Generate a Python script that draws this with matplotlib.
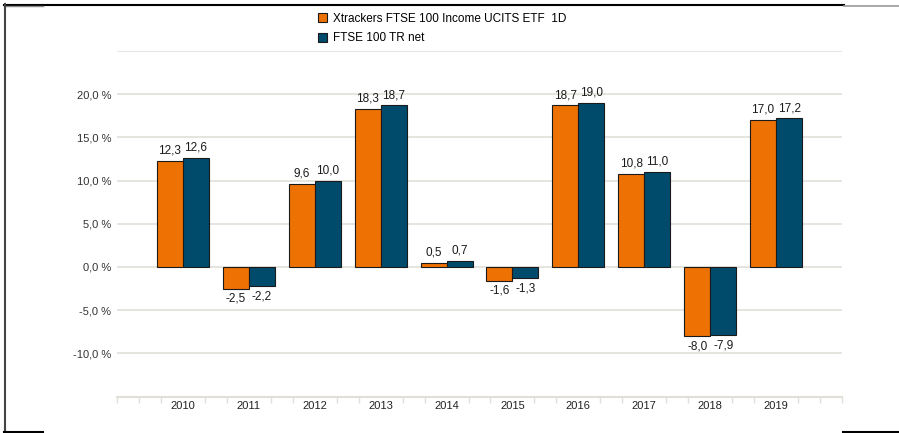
import matplotlib.pyplot as plt
import numpy as np
from matplotlib.lines import Line2D
from matplotlib.patches import Patch

plt.rcParams['font.family'] = ['Liberation Sans', 'DejaVu Sans']

years = ['2010', '2011', '2012', '2013', '2014', '2015', '2016', '2017', '2018', '2019']
etf = [12.3, -2.5, 9.6, 18.3, 0.5, -1.6, 18.7, 10.8, -8.0, 17.0]
index = [12.6, -2.2, 10.0, 18.7, 0.7, -1.3, 19.0, 11.0, -7.9, 17.2]
names = ['Xtrackers FTSE 100 Income UCITS ETF  1D', 'FTSE 100 TR net']

orange = '#ee7203'
blue = '#004a6c'
grid_c = '#e2dfd8'

W, H = 899, 433
fig = plt.figure(figsize=(W / 100, H / 100), dpi=100)
ax = fig.add_axes([117 / W, (H - 396.5) / H, (842 - 117) / W, (396.5 - 51) / H])

x = np.arange(len(years))
bw = 0.395
b1 = ax.bar(x - bw / 2, etf, bw, color=orange, edgecolor='#1a1a1a', linewidth=0.8, zorder=3)
b2 = ax.bar(x + bw / 2, index, bw, color=blue, edgecolor='#1a1a1a', linewidth=0.8, zorder=3)

for bars, vals in ((b1, etf), (b2, index)):
    for r, v in zip(bars, vals):
        cx = r.get_x() + r.get_width() / 2
        lab = f'{v:.1f}'.replace('.', ',')
        if v >= 0:
            ax.annotate(lab, (cx, v), xytext=(0, 3), textcoords='offset points',
                        ha='center', va='bottom', fontsize=8.5, color='#1a1a1a')
        else:
            ax.annotate(lab, (cx, v), xytext=(0, -3), textcoords='offset points',
                        ha='center', va='top', fontsize=8.5, color='#1a1a1a')

ax.set_xlim(-1, 10)
ax.set_ylim(-15, 25)
yt = [-10, -5, 0, 5, 10, 15, 20]
ax.set_yticks(yt)
ax.set_yticklabels([f'{v:.1f} %'.replace('.', ',') for v in yt], fontsize=8, color='#333333')
for v in [-10, -5, 0, 5, 10, 15, 20, 25]:
    ax.axhline(v, color=grid_c, linewidth=1.2, zorder=1)
ax.tick_params(axis='y', length=0, pad=4)

ax.set_xticks(x)
ax.set_xticklabels(years, fontsize=8, color='#222222')
minor = [k / 3 for k in range(-3, 31) if k % 3 != 0 or k in (-3, 30)]
ax.set_xticks(minor, minor=True)
ax.tick_params(axis='x', which='major', length=0, pad=3)
ax.tick_params(axis='x', which='minor', length=4, width=1, color=grid_c, direction='out')

for s in ('top', 'right', 'left'):
    ax.spines[s].set_visible(False)
ax.spines['bottom'].set_color(grid_c)
ax.spines['bottom'].set_linewidth(1.5)

handles = [Patch(facecolor=orange, edgecolor='#1a1a1a', linewidth=0.8),
           Patch(facecolor=blue, edgecolor='#1a1a1a', linewidth=0.8)]
fig.legend(handles, names, loc='upper left', bbox_to_anchor=(307 / W, 1 - 2 / H),
           frameon=False, fontsize=8.5, handlelength=0.8, handleheight=0.8,
           handletextpad=0.5, labelspacing=0.65)

# frame lines around the picture
def fl(x0, y0, x1, y1, c='black', lw=1.5):
    fig.add_artist(Line2D([x0 / W, x1 / W], [1 - y0 / H, 1 - y1 / H], color=c, linewidth=lw))

fl(4, 4.5, 844, 4.5)
fl(4, 5.5, 43, 5.5, c='#888888', lw=1)
fl(844, 5.5, 899, 5.5, c='#999999', lw=1.2)
fl(4.5, 4, 4.5, 433, c='#444444', lw=1.5)
fl(4, 432, 43, 432)
fl(843, 432, 899, 432)

fig.savefig('out.png', dpi=100)
